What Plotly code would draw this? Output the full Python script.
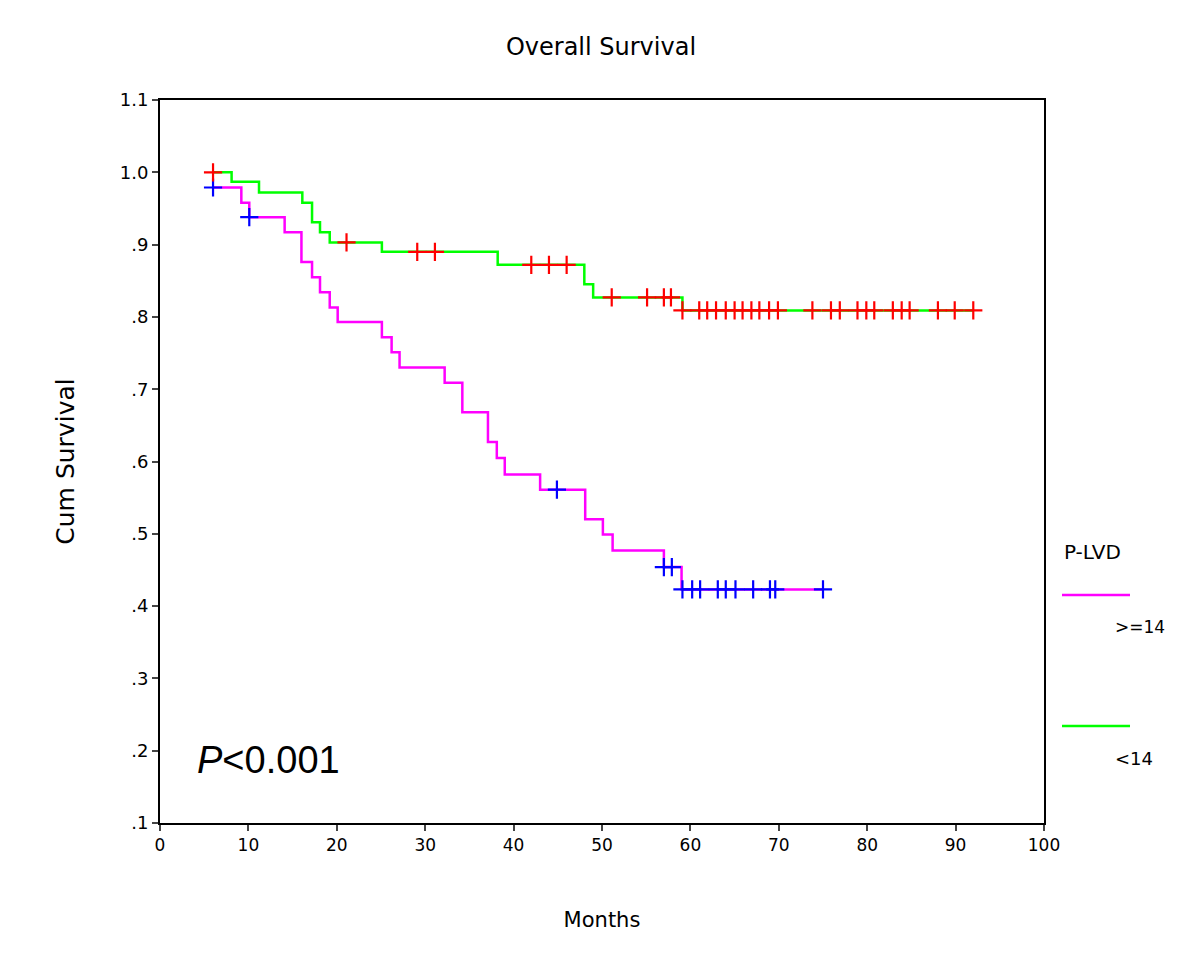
import plotly.graph_objects as go

# ---- Data ----
# P-LVD < 14 (green curve, red censor marks)
lo_start = 6.0
lo_end = 92.0
lo_event_times = [8.1, 11.2, 16.1, 17.2, 18.1, 19.2, 25.1, 38.2, 48.0, 49.0, 59.1]
lo_event_surv = [0.987, 0.972, 0.958, 0.931, 0.917, 0.903, 0.890, 0.872, 0.845, 0.827, 0.809]
lo_censor_times = [6.0, 21.1, 29.1, 31.1, 42.0, 44.0, 46.0, 51.1, 55.1, 57.0, 57.8,
                   59.1, 61.0, 61.9, 62.9, 64.0, 65.0, 65.9, 66.9, 67.8, 68.9, 69.9,
                   73.8, 75.9, 76.9, 78.9, 79.9, 80.8, 82.9, 83.9, 84.8, 88.0, 89.9, 92.0]

# P-LVD >= 14 (magenta curve, blue censor marks)
hi_start = 6.0
hi_start_surv = 0.979
hi_end = 75.0
hi_event_times = [9.2, 10.1, 14.1, 16.0, 17.2, 18.1, 19.2, 20.1, 25.1, 26.2, 27.1,
                  32.2, 34.2, 37.1, 38.1, 39.0, 43.0, 48.1, 50.1, 51.2, 57.0, 59.0]
hi_event_surv = [0.958, 0.938, 0.917, 0.876, 0.855, 0.834, 0.813, 0.793, 0.772, 0.751, 0.730,
                 0.709, 0.668, 0.627, 0.605, 0.582, 0.561, 0.520, 0.499, 0.477, 0.454, 0.423]
hi_censor_times = [6.0, 10.1, 44.9, 57.0, 57.9, 59.1, 60.2, 61.1, 63.1, 64.0, 65.1,
                   67.1, 69.0, 69.6, 75.0]

x_ticks = [0, 10, 20, 30, 40, 50, 60, 70, 80, 90, 100]
y_ticks = [0.1, 0.2, 0.3, 0.4, 0.5, 0.6, 0.7, 0.8, 0.9, 1.0, 1.1]
y_tick_labels = [".1", ".2", ".3", ".4", ".5", ".6", ".7", ".8", ".9", "1.0", "1.1"]


def step_path(t0, s0, times, surv, t_end):
    xs = [t0] + list(times) + [t_end]
    ys = [s0] + list(surv) + [surv[-1]]
    return xs, ys


def surv_at(t, t0, s0, times, surv):
    s = s0
    for tt, ss in zip(times, surv):
        if tt <= t + 1e-9:
            s = ss
    return s


lo_x, lo_y = step_path(lo_start, 1.0, lo_event_times, lo_event_surv, lo_end)
hi_x, hi_y = step_path(hi_start, hi_start_surv, hi_event_times, hi_event_surv, hi_end)

lo_cy = [surv_at(t, lo_start, 1.0, lo_event_times, lo_event_surv) for t in lo_censor_times]
hi_cy = [surv_at(t, hi_start, hi_start_surv, hi_event_times, hi_event_surv) for t in hi_censor_times]

GREEN = "#00FF00"
MAGENTA = "#FF00FF"
RED = "#FF0000"
BLUE = "#0000FF"
FONT = "DejaVu Sans"

# page offset (browser body margin)
OFF = 8
W, H = 1200, 960
L, R, T, B = 160 - OFF, W - (1044 - OFF), 100 - OFF, H - (823 - OFF)
pw = W - L - R
ph = H - T - B


def px2paper(px, py):
    # px, py are screenshot pixel coordinates
    return (px - OFF - L) / pw, (H - B - (py - OFF)) / ph


fig = go.Figure()
fig.add_trace(go.Scatter(x=hi_x, y=hi_y, mode="lines", line=dict(color=MAGENTA, width=2.5, shape="hv"),
                         showlegend=False, hoverinfo="skip"))
fig.add_trace(go.Scatter(x=lo_x, y=lo_y, mode="lines", line=dict(color=GREEN, width=2.5, shape="hv"),
                         showlegend=False, hoverinfo="skip"))
fig.add_trace(go.Scatter(x=hi_censor_times, y=hi_cy, mode="markers",
                         marker=dict(symbol="cross-thin", size=13, line=dict(color=BLUE, width=2.2)),
                         showlegend=False))
fig.add_trace(go.Scatter(x=lo_censor_times, y=lo_cy, mode="markers",
                         marker=dict(symbol="cross-thin", size=13, line=dict(color=RED, width=2.2)),
                         showlegend=False))

fig.update_layout(
    width=W, height=H,
    margin=dict(l=L, r=R, t=T, b=B),
    paper_bgcolor="white", plot_bgcolor="white",
    title=dict(text="Overall Survival", x=px2paper(601, 0)[0] * pw / W + L / W, xanchor="center",
               y=1 - (47 - OFF) / H, yanchor="middle",
               font=dict(family=FONT, size=24, color="black")),
    xaxis=dict(range=[0, 100], tickvals=x_ticks, ticks="outside", ticklen=6, tickwidth=1.5,
               showline=True, linecolor="black", linewidth=2, mirror=True, showgrid=False, zeroline=False,
               tickfont=dict(family=FONT, size=17, color="black"),
               title=dict(text="Months", font=dict(family=FONT, size=21, color="black"), standoff=58)),
    yaxis=dict(range=[0.1, 1.1], tickvals=y_ticks, ticktext=y_tick_labels, ticks="outside", ticklen=6,
               tickwidth=1.5, showline=True, linecolor="black", linewidth=2, mirror=True, showgrid=False,
               zeroline=False, tickfont=dict(family=FONT, size=18, color="black"),
               title=dict(text="Cum Survival", font=dict(family=FONT, size=25, color="black"), standoff=38)),
)

# P-value annotation
px_, py_ = px2paper(195, 760)
fig.add_annotation(x=px_, y=py_, xref="paper", yref="paper", xanchor="left", yanchor="middle",
                   text="<i>P</i><0.001", showarrow=False,
                   font=dict(family="Liberation Sans", size=38, color="black"))

# Legend (drawn manually to mimic SPSS layout)
for txt, lx, ly, sz in [("P-LVD", 1062, 552, 20), (">=14", 1113, 627, 17), ("<14", 1113, 758, 18)]:
    ax, ay = px2paper(lx, ly)
    fig.add_annotation(x=ax, y=ay, xref="paper", yref="paper", text=txt, showarrow=False,
                       xanchor="left", yanchor="middle", font=dict(family=FONT, size=sz, color="black"))

for color, py in [(MAGENTA, 595), (GREEN, 726)]:
    x0, y0 = px2paper(1062, py)
    x1, _ = px2paper(1130, py)
    fig.add_shape(type="line", xref="paper", yref="paper", x0=x0, x1=x1, y0=y0, y1=y0,
                  line=dict(color=color, width=2.5))

fig.write_html("out.html")
